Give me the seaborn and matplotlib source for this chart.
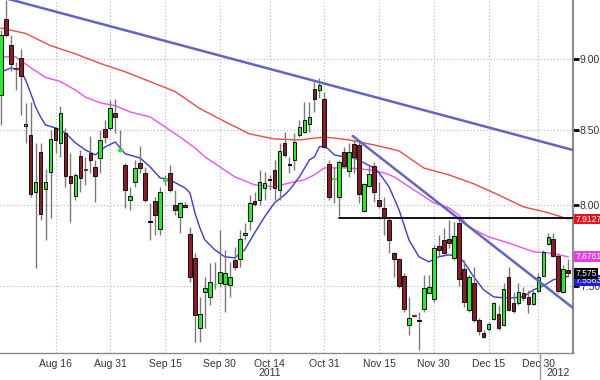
import numpy as np
import pandas as pd
import matplotlib
matplotlib.use("Agg")
import matplotlib.pyplot as plt
import seaborn as sns
from matplotlib.ticker import FixedLocator, FixedFormatter, NullLocator

sns.set_style("white")
plt.rcParams['font.family'] = ['Liberation Sans', 'DejaVu Sans']

# ---------------- data ----------------
opens = [8.745, 9.298, 9.104, 8.94, 9.01, 8.53, 8.468, 8.088, 8.353, 8.108,
         8.22, 8.516, 8.414, 8.482, 8.193, 8.062, 8.326, 8.24, 8.346, 8.253,
         8.312, 8.509, 8.516, 8.62, 8.36, 8.266, 8.036, 8.154, 8.279, 8.213,
         7.895, 8.03, 7.85, 8.16, 8.213, 8.004, 7.927, 8.004, 7.819, 7.669,
         7.249, 7.462, 7.432, 7.507, 7.517, 7.511, 7.505, 7.657, 7.663, 7.812,
         7.902, 8.03, 8.036, 8.114, 8.167, 8.233, 8.101, 8.414, 8.266, 8.299,
         8.468, 8.488, 8.544, 8.787, 8.78, 8.717, 8.273, 8.175, 8.055, 8.353,
         8.226, 8.407, 8.40, 7.966, 8.128, 8.259, 8.036, 7.985, 7.908, 7.70,
         7.663, 7.559, 7.267, 7.322, 7.29, 7.361, 7.456, 7.42, 7.744, 7.781,
         7.787, 7.669, 7.889, 7.602, 7.355, 7.517, 7.296, 7.22, 7.243, 7.302,
         7.331, 7.267, 7.553, 7.396, 7.396, 7.456, 7.432, 7.39, 7.468, 7.559,
         7.756, 7.787, 7.682, 7.462, 7.596]
highs = [9.215, 9.44, 9.178, 8.98, 9.075, 8.69, 8.696, 8.41, 8.414, 8.24,
         8.50, 8.52, 8.668, 8.516, 8.346, 8.213, 8.366, 8.32, 8.461, 8.299,
         8.502, 8.571, 8.71, 8.717, 8.50, 8.279, 8.121, 8.299, 8.393, 8.253,
         8.017, 8.055, 8.121, 8.20, 8.266, 8.101, 8.023, 8.023, 7.863, 7.70,
         7.432, 7.553, 7.639, 7.645, 7.844, 7.719, 7.645, 7.738, 7.844, 7.889,
         8.068, 8.088, 8.233, 8.22, 8.20, 8.299, 8.414, 8.488, 8.319, 8.482,
         8.571, 8.696, 8.696, 8.837, 8.865, 8.766, 8.299, 8.253, 8.299, 8.387,
         8.414, 8.434, 8.42, 8.147, 8.266, 8.286, 8.154, 8.055, 7.921, 7.707,
         7.669, 7.578, 7.432, 7.33, 7.343, 7.566, 7.566, 7.75, 7.81, 7.857,
         7.908, 7.895, 7.927, 7.657, 7.566, 7.614, 7.308, 7.237, 7.284, 7.402,
         7.384, 7.517, 7.614, 7.462, 7.517, 7.492, 7.474, 7.474, 7.578, 7.719,
         7.825, 7.825, 7.70, 7.627, 7.663]
lows = [8.536, 9.163, 8.916, 8.78, 8.605, 8.41, 8.055, 7.608, 7.908, 7.78,
        7.92, 8.346, 8.32, 8.121, 7.895, 8.036, 8.088, 8.134, 8.213, 8.023,
        8.213, 8.414, 8.50, 8.482, 8.353, 7.985, 7.972, 8.121, 8.213, 8.023,
        7.781, 7.81, 7.81, 8.134, 8.088, 7.94, 7.825, 7.985, 7.523, 7.167,
        7.167, 7.249, 7.384, 7.48, 7.492, 7.343, 7.432, 7.596, 7.614, 7.781,
        7.844, 7.998, 8.004, 8.036, 8.10, 8.036, 8.036, 8.319, 8.213, 8.233,
        8.454, 8.482, 8.488, 8.626, 8.724, 8.38, 8.036, 8.017, 7.933, 8.253,
        8.187, 8.213, 8.017, 7.959, 8.121, 8.023, 7.985, 7.81, 7.70, 7.553,
        7.486, 7.343, 7.208, 7.31, 7.121, 7.343, 7.456, 7.402, 7.682, 7.688,
        7.731, 7.657, 7.498, 7.373, 7.343, 7.284, 7.208, 7.19, 7.231, 7.296,
        7.237, 7.261, 7.349, 7.337, 7.384, 7.408, 7.337, 7.384, 7.462, 7.559,
        7.75, 7.676, 7.456, 7.456, 7.553]
closes = [9.178, 9.178, 8.966, 8.93, 8.88, 8.545, 8.075, 8.154, 7.946, 8.154,
          8.441, 8.434, 8.62, 8.193, 8.147, 8.20, 8.18, 8.235, 8.299, 8.193,
          8.434, 8.454, 8.654, 8.592, 8.37, 8.101, 8.062, 8.246, 8.246, 8.036,
          7.895, 7.94, 8.088, 8.17, 8.101, 7.972, 8.017, 7.991, 7.553, 7.326,
          7.331, 7.486, 7.523, 7.512, 7.584, 7.578, 7.553, 7.614, 7.787, 7.825,
          8.017, 8.01, 8.154, 8.147, 8.167, 8.114, 8.36, 8.333, 8.266, 8.420,
          8.523, 8.571, 8.592, 8.717, 8.816, 8.387, 8.055, 8.18, 8.286, 8.259,
          8.353, 8.319, 8.075, 8.141, 8.207, 8.088, 7.998, 7.921, 7.781, 7.663,
          7.498, 7.361, 7.308, 7.318, 7.29, 7.486, 7.492, 7.731, 7.719, 7.70,
          7.762, 7.806, 7.541, 7.402, 7.553, 7.296, 7.231, 7.196, 7.273, 7.396,
          7.249, 7.48, 7.355, 7.349, 7.462, 7.426, 7.39, 7.456, 7.553, 7.707,
          7.80, 7.682, 7.468, 7.602, 7.575]

tick_idx = [11, 22, 33, 44, 54, 65, 76, 87, 98, 108]
tick_lab = ["Aug 16", "Aug 31", "Sep 15", "Sep 30", "Oct 14", "Oct 31",
            "Nov 15", "Nov 30", "Dec 15", "Dec 30"]
year_idx = [54, 112]
year_lab = ["2011", "2012"]

red_idx = [0, 5, 10, 15, 20, 25, 30, 35, 40, 45, 50, 55, 60, 65, 70, 75, 80,
           85, 90, 95, 100, 105, 110, 114]
red_val = [9.23, 9.19, 9.10, 9.04, 8.97, 8.91, 8.84, 8.77, 8.65, 8.56, 8.475,
           8.44, 8.434, 8.454, 8.434, 8.40, 8.36, 8.245, 8.20, 8.141, 8.068,
           7.991, 7.953, 7.913]
mag_idx = [0, 3, 6, 9, 12, 15, 17, 20, 23, 26, 30, 33, 36, 39, 41, 44, 47, 51,
           55, 58, 61, 63, 65, 70, 74, 77, 79, 83, 87, 90, 92, 94, 98, 102,
           107, 110, 114]
mag_val = [9.018, 9.018, 8.94, 8.87, 8.84, 8.78, 8.73, 8.69, 8.67, 8.626,
           8.592, 8.523, 8.454, 8.38, 8.32, 8.253, 8.187, 8.134, 8.121, 8.147,
           8.167, 8.20, 8.246, 8.246, 8.233, 8.213, 8.187, 8.101, 8.017,
           7.985, 7.94, 7.863, 7.80, 7.762, 7.707, 7.70, 7.676]
blue_idx = [0, 2, 4, 5, 6, 7, 8, 9, 11, 13, 15, 17, 19, 21, 23, 25, 28, 30,
            32, 34, 37, 38, 39, 40, 41, 43, 45, 47, 49, 51, 53, 55, 57, 58,
            60, 62, 63, 64, 65, 66, 67, 69, 71, 73, 75, 76, 77, 78, 80, 82,
            84, 86, 88, 90, 92, 93, 95, 97, 99, 101, 103, 105, 107, 109, 111,
            114]
blue_val = [8.908, 8.937, 8.923, 8.851, 8.759, 8.661, 8.592, 8.536, 8.516,
            8.482, 8.414, 8.366, 8.333, 8.387, 8.420, 8.34, 8.312, 8.253,
            8.18, 8.167, 8.114, 8.082, 7.953, 7.857, 7.781, 7.719, 7.676,
            7.669, 7.719, 7.825, 7.927, 8.017, 8.068, 8.101, 8.187, 8.299,
            8.319, 8.387, 8.393, 8.366, 8.333, 8.319, 8.312, 8.279, 8.246,
            8.213, 8.167, 8.121, 7.972, 7.781, 7.676, 7.645, 7.676, 7.688,
            7.676, 7.645, 7.553, 7.474, 7.432, 7.426, 7.426, 7.432, 7.474,
            7.498, 7.535, 7.556]

trend1_idx = [0.0, 114.9]
trend1_val = [9.464, 8.366]
trend2_idx = [70.7, 114.9]
trend2_val = [8.461, 7.367]
level_idx = [68, 114.9]
level_val = [7.92, 7.92]

last_labels = ["7.9127", "7.6761", "7.575", "7.5563"]
last_pos = [7.913, 7.676, 7.575, 7.530]
last_cols = ["#e8141c", "#e040e0", "#000000", "#2020d0"]

# ---------------- figure ----------------
df = pd.DataFrame({"idx": np.arange(len(opens)), "open": opens, "high": highs,
                   "low": lows, "close": closes})
fig = plt.figure(figsize=(6, 3.8), dpi=100)
ax = fig.add_axes([0, 27 / 380, 573 / 600, 353 / 380])
ax.set_yscale("log")

ma = pd.concat([
    pd.DataFrame({"idx": red_idx, "val": red_val, "ma": "red"}),
    pd.DataFrame({"idx": mag_idx, "val": mag_val, "ma": "mag"}),
    pd.DataFrame({"idx": blue_idx, "val": blue_val, "ma": "blue"}),
])
sns.lineplot(data=ma, x="idx", y="val", hue="ma",
             palette={"red": "#ec4a4a", "mag": "#f050f0", "blue": "#3a3ad8"},
             linewidth=1.0, legend=False, ax=ax, zorder=2, sort=False,
             estimator=None)

# candles
up = df["close"] > df["open"]
dn = df["close"] < df["open"]
cols = np.where(up, "#22f022", np.where(dn, "#8e1b22", "#000000"))
body_lo = np.minimum(df["open"], df["close"])
body_h = np.abs(df["close"] - df["open"])
tiny = body_h < 0.012
edge = np.where(tiny, cols, "#101010")
ax.vlines(df["idx"], df["low"], df["high"], color="#7a7a7a", lw=1.0, zorder=3)
ax.bar(df["idx"], np.maximum(body_h, 0.004), bottom=body_lo, width=0.74,
       color=cols, edgecolor=edge, linewidth=0.7, zorder=4)

# trend lines
ax.plot(trend1_idx, trend1_val, color="#6464c4", lw=1.8, zorder=5)
ax.plot(trend2_idx, trend2_val, color="#6464c4", lw=1.8, zorder=5)
ax.plot(level_idx, level_val, color="#000000", lw=1.3, zorder=5)

ax.set_xlim(-0.15, 114.95)
ax.set_ylim(7.103, 9.441)

# axes styling
for s in ["left", "top"]:
    ax.spines[s].set_visible(False)
ax.spines["right"].set_color("#8a8a8a")
ax.spines["right"].set_linewidth(1.5)
ax.spines["bottom"].set_color("#8a8a8a")
ax.spines["bottom"].set_linewidth(1.0)

ax.yaxis.tick_right()
ax.yaxis.set_major_locator(FixedLocator([7.5, 8.0, 8.5, 9.0]))
ax.yaxis.set_major_formatter(FixedFormatter(["7.50", "8.00", "8.50", "9.00"]))
ax.yaxis.set_minor_locator(NullLocator())
ax.tick_params(axis="y", which="major", direction="out", length=4, width=2,
               color="#000000", labelsize=7.5, labelcolor="#333333", pad=1)

ax.xaxis.set_major_locator(FixedLocator(tick_idx))
ax.xaxis.set_major_formatter(FixedFormatter(tick_lab))
mids = [(a + b) / 2 for a, b in zip([0] + tick_idx, tick_idx + [tick_idx[-1] + 10])]
ax.xaxis.set_minor_locator(FixedLocator(mids))
ax.tick_params(axis="x", which="both", direction="out", length=3, width=0.8,
               color="#777777", labelsize=7.5, labelcolor="#333333", pad=1)

ax.grid(True, which="major", axis="both", linestyle=(0, (1, 2)),
        color="#b4b4b4", linewidth=0.8)
ax.set_xlabel("")
ax.set_ylabel("")

trans = ax.get_xaxis_transform()
for xi, lab in zip(year_idx, year_lab):
    ax.text(xi, -0.058, lab, transform=trans, ha="center", va="center",
            fontsize=7.5, color="#333333", clip_on=False)
ax.plot([108.4, 108.4], [0, -0.075], transform=trans, color="#9a9a9a",
        lw=1.0, clip_on=False)

ytrans = ax.get_yaxis_transform()
for lab, pos, col in zip(last_labels[::-1], last_pos[::-1], last_cols[::-1]):
    ax.annotate(lab, xy=(1.004, pos), xycoords=ytrans, ha="left", va="center",
                fontsize=6.2, color="white", annotation_clip=False, zorder=6,
                bbox=dict(boxstyle="square,pad=0.1", fc=col, ec="none"))

fig.savefig("out.png", dpi=100)
